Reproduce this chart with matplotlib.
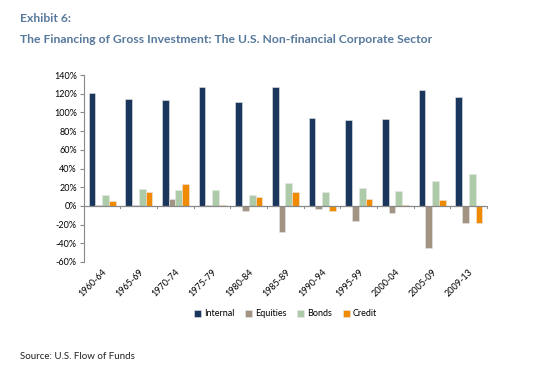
import matplotlib.pyplot as plt
import numpy as np

periods = ["1960-64", "1965-69", "1970-74", "1975-79", "1980-84", "1985-89",
           "1990-94", "1995-99", "2000-04", "2005-09", "2009-13"]
internal = [121, 114, 113, 127, 111, 127, 94, 92, 93, 124, 117]
equities = [1, 0.5, 7.5, 0.5, -5, -28, -3, -16, -8, -45.5, -18.5]
bonds = [12, 18.5, 17, 17, 12, 24.5, 14.5, 19.5, 16, 27, 34.5]
credit = [5.5, 15, 23, 0.5, 9, 15, -5, 7.5, 1, 6.5, -18.5]

series = [("Internal", internal, "#1b365d"),
          ("Equities", equities, "#a39382"),
          ("Bonds", bonds, "#adcba8"),
          ("Credit", credit, "#ef8a02")]

plt.rcParams['font.family'] = ['Lato', 'DejaVu Sans']

fig = plt.figure(figsize=(5.37, 3.83), dpi=100)
ax = fig.add_axes([0.156, 0.316, 0.751, 0.488])

x = np.arange(len(periods))
w = 0.185
for i, (name, vals, col) in enumerate(series):
    ax.bar(x + (i - 1.5) * w, vals, w, color=col, label=name,
           edgecolor="#e8e8e8", linewidth=0.4)

ax.set_xlim(-0.5, len(periods) - 0.5)
ax.set_ylim(-60, 140)
ax.set_yticks(range(-60, 141, 20))
ax.set_yticklabels([f"{v}%" for v in range(-60, 141, 20)], fontsize=6.5)
ax.tick_params(axis='y', length=3, color="#888888", pad=2)

# zero axis with group separators
ax.axhline(0, color="#888888", linewidth=0.9)
for b in np.arange(-0.5, len(periods), 1.0):
    ax.plot([b, b], [0, -2.5], color="#888888", linewidth=0.7, clip_on=False)

ax.set_xticks(x)
ax.set_xticklabels(periods, rotation=45, ha="right", rotation_mode="anchor", fontsize=6.5)
ax.tick_params(axis='x', length=0, pad=4)

for s in ["top", "right", "bottom"]:
    ax.spines[s].set_visible(False)
ax.spines["left"].set_color("#888888")

ax.legend(loc="upper center", bbox_to_anchor=(0.5, -0.21), ncol=4, frameon=False,
          fontsize=6.5, handlelength=0.8, handleheight=0.8, handletextpad=0.3,
          columnspacing=1.2)

title_col = "#56789c"
fig.text(0.037, 0.965, "Exhibit 6:", fontsize=8.7, fontweight="bold",
         color=title_col, va="top")
fig.text(0.037, 0.91, "The Financing of Gross Investment: The U.S. Non-financial Corporate Sector",
         fontsize=8.7, fontweight="bold", color=title_col, va="top")
fig.text(0.037, 0.062, "Source: U.S. Flow of Funds", fontsize=7, color="#222222")

fig.savefig("out.png", dpi=100)
